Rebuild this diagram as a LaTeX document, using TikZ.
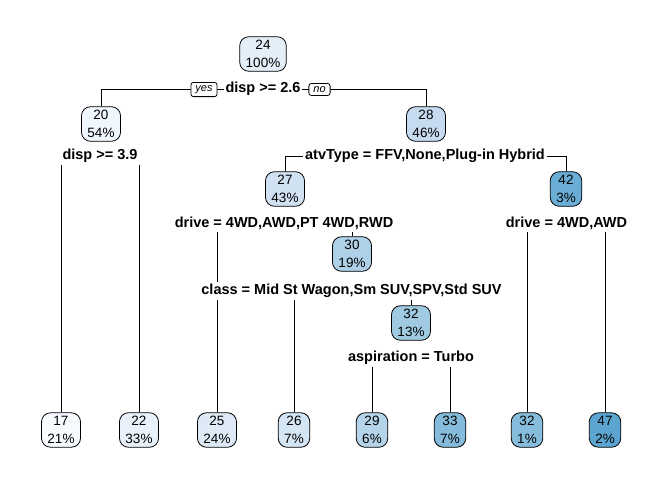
\documentclass[tikz,border=0pt]{standalone}
\usepackage{fontspec}
\setmainfont{Liberation Sans}
\usetikzlibrary{backgrounds}
\definecolor{c17}{HTML}{F7FBFF}
\definecolor{c20}{HTML}{EFF6FD}
\definecolor{c22}{HTML}{E8F1FA}
\definecolor{c24}{HTML}{E3EEF9}
\definecolor{c25}{HTML}{DDEAF6}
\definecolor{c26}{HTML}{D4E5F4}
\definecolor{c27}{HTML}{D0E2F2}
\definecolor{c28}{HTML}{C6DBEF}
\definecolor{c29}{HTML}{B5D4E9}
\definecolor{c30}{HTML}{AFD1E7}
\definecolor{c32n}{HTML}{A0CAE1}
\definecolor{c33}{HTML}{85BCDC}
\definecolor{c32l}{HTML}{86BDDC}
\definecolor{c42}{HTML}{69ADD5}
\definecolor{c47}{HTML}{5DA5D1}
\begin{document}
\begin{tikzpicture}[x=1pt,y=-1pt]
\tikzset{
 nd/.style={draw=black, line width=0.8pt, rounded corners=9pt, align=center,
   inner xsep=6pt, inner ysep=3.5pt, font=\fontsize{13.5}{18}\selectfont},
 lab/.style={fill=white, inner xsep=1.5pt, inner ysep=2pt, font=\fontsize{14.5}{16}\selectfont\bfseries},
 yn/.style={draw=black, line width=0.8pt, fill=white, rounded corners=2.5pt,
   font=\fontsize{11}{12}\selectfont\itshape, inner xsep=4.5pt, inner ysep=3pt},
 ln/.style={line width=0.8pt}
}
\useasboundingbox (0,0) rectangle (672,480);
% internal nodes
\node[nd, fill=c24] (n24) at (263,54) {24\\100\%};
\node[nd, fill=c20] (n20) at (101,124) {20\\54\%};
\node[nd, fill=c28] (n28) at (426,124) {28\\46\%};
\node[nd, fill=c27] (n27) at (285,189) {27\\43\%};
\node[nd, fill=c42] (n42) at (566,189) {42\\3\%};
\node[nd, fill=c30] (n30) at (352,254) {30\\19\%};
\node[nd, fill=c32n] (n32) at (411,323) {32\\13\%};
% leaves
\node[nd, fill=c17] (n17) at (61,430) {17\\21\%};
\node[nd, fill=c22] (n22) at (139,430) {22\\33\%};
\node[nd, fill=c25] (n25) at (217,430) {25\\24\%};
\node[nd, fill=c26] (n26) at (294,430) {26\\7\%};
\node[nd, fill=c29] (n29) at (372,430) {29\\6\%};
\node[nd, fill=c33] (n33) at (450,430) {33\\7\%};
\node[nd, fill=c32l] (n32b) at (527,430) {32\\1\%};
\node[nd, fill=c47] (n47) at (605,430) {47\\2\%};
% split labels
\node[lab] (s24) at (263,89) {disp >= 2.6};
\node[yn] (yes) at (204,89.5) {yes};
\node[yn] (no) at (319.5,89.5) {no};
\node[lab] (s20) at (100,156) {disp >= 3.9};
\node[lab] (s28) at (425,156) {atvType = FFV,None,Plug-in Hybrid};
\node[lab] (s27) at (284,223) {drive = 4WD,AWD,PT 4WD,RWD};
\node[lab] (s42) at (566.5,223) {drive = 4WD,AWD};
\node[lab] (s30) at (351.5,291) {class = Mid St Wagon,Sm SUV,SPV,Std SUV};
\node[lab] (s32) at (411,358) {aspiration = Turbo};
% connectors
\begin{scope}[on background layer]
\fill[white] (0,0) rectangle (672,480);
\coordinate (h1) at (263,89);
\draw[ln] (n20.north) -- (n20.north |- h1) -- (n28.north |- h1) -- (n28.north);
\draw[ln] (n17.north) -- (n17.north |- s20.center);
\draw[ln] (n22.north) -- (n22.north |- s20.south);
\draw[ln] (n27.north) |- (s28.west);
\draw[ln] (n42.north) |- (s28.east);
\draw[ln] (n25.north) -- (n25.north |- s27.south);
\draw[ln] (n30.north) -- (n30.north |- s27.south);
\draw[ln] (n32b.north) -- (n32b.north |- s42.south);
\draw[ln] (n47.north) -- (n47.north |- s42.south);
\draw[ln] (n26.north) -- (n26.north |- s30.south);
\draw[ln] (n32.north) -- (n32.north |- s30.south);
\draw[ln] (n29.north) -- (n29.north |- s32.south);
\draw[ln] (n33.north) -- (n33.north |- s32.south);
\end{scope}
\end{tikzpicture}
\end{document}
